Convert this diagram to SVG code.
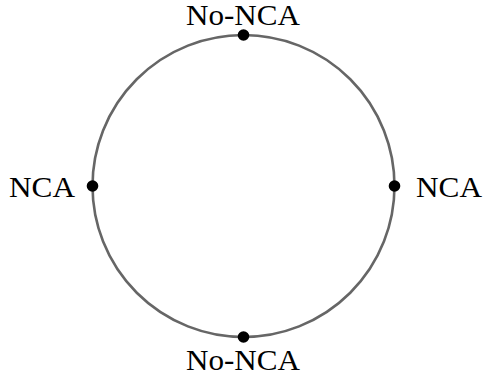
<svg xmlns="http://www.w3.org/2000/svg" width="485" height="379" viewBox="0 0 485 379">
<style>
.lbl{font-family:"Liberation Serif","Times New Roman",serif;font-size:30px;fill:#000}
.dot{fill:#000}
</style>
<rect width="485" height="379" fill="#fff"/>
<g id="connectors">
<circle cx="243.5" cy="186" r="151" fill="none" stroke="#666" stroke-width="2.6"/>
</g>
<g id="top"><circle class="dot" cx="243.5" cy="35" r="5.8"/><text class="lbl" x="243" y="25" text-anchor="middle" textLength="114" lengthAdjust="spacingAndGlyphs">No-NCA</text></g>
<g id="bottom"><circle class="dot" cx="243.5" cy="337" r="5.8"/><text class="lbl" x="243" y="370" text-anchor="middle" textLength="114" lengthAdjust="spacingAndGlyphs">No-NCA</text></g>
<g id="left"><circle class="dot" cx="92.5" cy="186" r="5.8"/><text class="lbl" x="75" y="197" text-anchor="end" textLength="66" lengthAdjust="spacingAndGlyphs">NCA</text></g>
<g id="right"><circle class="dot" cx="394.5" cy="186" r="5.8"/><text class="lbl" x="416" y="197" textLength="66" lengthAdjust="spacingAndGlyphs">NCA</text></g>
</svg>
